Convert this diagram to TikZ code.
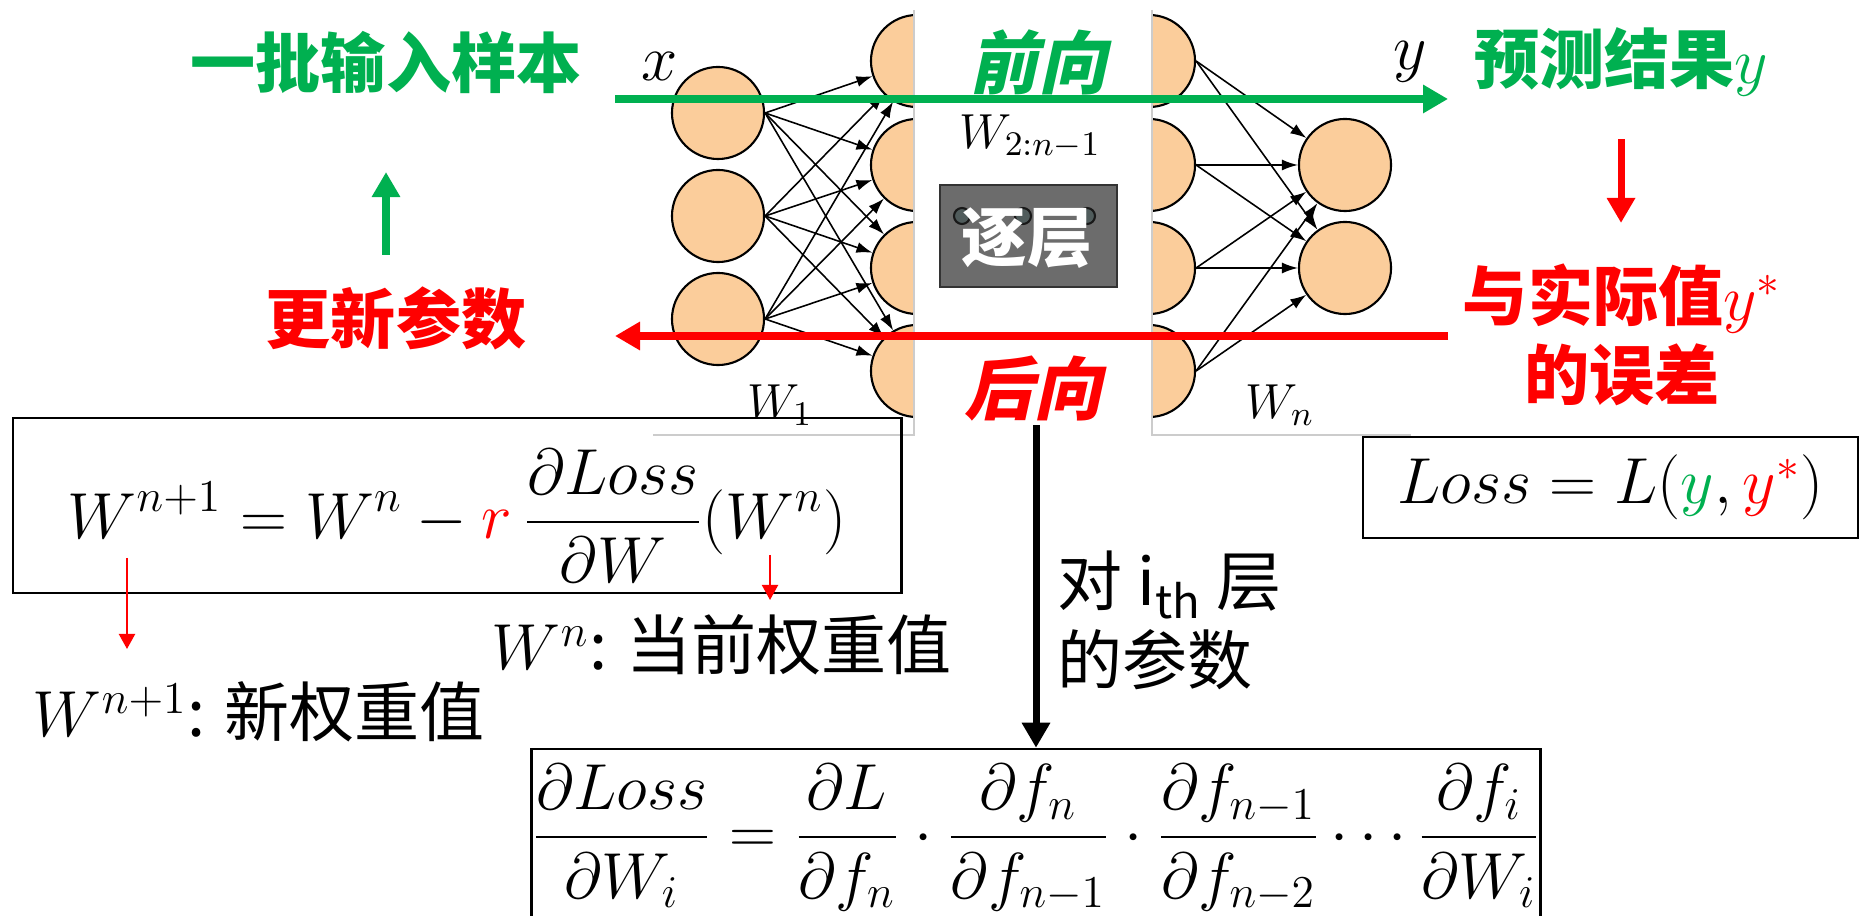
\documentclass[tikz,border=0pt]{standalone}
\usepackage{fix-cm}
\usepackage{amsmath}
\usepackage[no-math]{fontspec}
\usepackage{tikz}
\usetikzlibrary{arrows.meta}

\newfontfamily\cjkfont{Noto Sans CJK SC}
\newfontfamily\cjkslant[FakeSlant=0.22]{Noto Sans CJK SC}
\newcommand{\txtsize}{\fontsize{18.5}{22.5}\selectfont}

\definecolor{lvgreen}{RGB}{0,176,80}
\definecolor{lvred}{RGB}{255,0,0}
\definecolor{neuronfill}{RGB}{251,205,155}
\definecolor{layerfill}{RGB}{108,108,108}
\definecolor{layerdot}{RGB}{80,92,92}

\begin{document}
\begin{tikzpicture}[
    x=0.01cm, y=-0.01cm,
    % Neuronas y aristas de la red
    neuron/.style={circle, draw=black, line width=0.6pt, fill=neuronfill, minimum size=0.92cm, inner sep=0pt},
    edge/.style={-{Latex[length=1.6mm, width=1.1mm]}, line width=0.45pt},
    % Flechas gruesas de flujo
    flowArrow/.style={-{Triangle[length=2.5mm, width=2.7mm]}, line width=2pt},
    thinArrow/.style={-{Triangle[length=1.5mm, width=1.6mm]}, line width=0.6pt, color=lvred},
    frameLine/.style={draw=black!20, line width=0.4pt},
    formulaBox/.style={draw=black, line width=0.7pt, inner sep=0pt, font=\txtsize},
    bigLabel/.style={font=\cjkfont\bfseries\txtsize, inner sep=0pt},
    dirLabel/.style={font=\cjkslant\bfseries\fontsize{19.5}{22}\selectfont, inner sep=0pt},
    txt/.style={font=\cjkfont\txtsize, inner sep=0pt},
    wLabel/.style={font=\fontsize{14}{16}\selectfont, inner sep=0pt}
]

    \path[use as bounding box, fill=white] (0,0) rectangle (1861,916);

    % --- RED IZQUIERDA ---
    \foreach \i/\yy in {1/113, 2/216, 3/319}
        \node[neuron] (a\i) at (718,\yy) {};
    \begin{scope}
        \clip (653,10) rectangle (914,435);
        \foreach \j/\yy in {1/61, 2/165, 3/268, 4/371}
            \node[neuron] (b\j) at (917,\yy) {};
        \foreach \i in {1,2,3}
            \foreach \j in {1,...,4}
                \draw[edge] (a\i.east) -- (b\j);
    \end{scope}
    \draw[frameLine] (653,435) -- (914,435) -- (914,10);

    % --- RED DERECHA ---
    \begin{scope}
        \clip (1152,10) rectangle (1411,435);
        \foreach \j/\yy in {1/61, 2/165, 3/268, 4/371}
            \node[neuron] (c\j) at (1149,\yy) {};
    \end{scope}
    \foreach \k/\yy in {1/165, 2/268}
        \node[neuron] (d\k) at (1345,\yy) {};
    \foreach \j in {1,...,4}
        \foreach \k in {1,2}
            \draw[edge] (c\j.east) -- (d\k);
    \draw[frameLine] (1152,10) -- (1152,435) -- (1411,435);

    % --- CAPA OCULTA ---
    \node[draw=black!80, fill=layerfill, line width=0.8pt, minimum width=1.77cm, minimum height=1.02cm, inner sep=0pt] (layerBox) at (1028.5,236) {};
    \foreach \n/\xx in {1/962, 2/1023, 3/1087}
        \node[circle, draw=black!90, fill=layerdot, line width=0.6pt, minimum size=0.16cm, inner sep=0pt] (dot\n) at (\xx,216) {};
    \node[bigLabel, text=white] (layerTxt) at (1027,238) {逐层};

    % --- FLECHAS DE FLUJO ---
    \coordinate (fwdStart) at (615,99);
    \coordinate (fwdEnd)   at (1448,99);
    \coordinate (bwdStart) at (1448,336);
    \coordinate (bwdEnd)   at (615,336);
    \draw[flowArrow, lvgreen] (fwdStart) -- (fwdEnd);
    \draw[flowArrow, lvred] (bwdStart) -- (bwdEnd);

    % --- ETIQUETAS ---
    \node[wLabel] (xin)  at (660,67)  {\fontsize{18.5}{22}\selectfont$x$};
    \node[wLabel] (yout) at (1410,62) {\fontsize{18.5}{22}\selectfont$y$};
    \node[wLabel] (w1)   at (780,405)  {$W_1$};
    \node[wLabel] (wmid) at (1030,137) {$W_{2:n-1}$};
    \node[wLabel] (wn)   at (1280,405) {$W_n$};

    \node[dirLabel, text=lvgreen] (fwd) at (1038,62)  {前向};
    \node[dirLabel, text=lvred]   (bwd) at (1033,389) {后向};

    \node[bigLabel, text=lvgreen] (batch)  at (386,62)  {一批输入样本};
    \node[bigLabel, text=lvred]   (update) at (396,318) {更新参数};
    \node[bigLabel, text=lvgreen] (pred)   at (1621,62) {预测结果$y$};
    \node[bigLabel, text=lvred, align=center] (err) at (1622,335) {与实际值$y^{*}$\\的误差};

    \draw[flowArrow, lvgreen, shorten <=0.63cm, shorten >=1.10cm] (update.center -| batch.center) -- (batch.center);
    \draw[flowArrow, lvred, shorten <=0.77cm, shorten >=1.12cm] (pred.center) -- (pred.center |- err.center);

    % --- FORMULAS ---
    \node[formulaBox, minimum width=8.88cm, minimum height=1.75cm] (ruleBox) at (457,505.5) {};
    \node[font=\txtsize, inner sep=0pt] (ruleEq) at (457,516)
        {$\displaystyle W^{n+1} = W^{n} - {\color{lvred}r}\,\frac{\partial Loss}{\partial W}(W^{n})$};

    \node[formulaBox, minimum width=4.95cm, minimum height=1.01cm] (lossBox) at (1610.5,487.5)
        {$Loss = L({\color{lvgreen}y}, {\color{lvred}y^{*}})$};

    \node[formulaBox, minimum width=10.08cm, minimum height=1.78cm] (chainBox) at (1036,838)
        {$\displaystyle \frac{\partial Loss}{\partial W_i} = \frac{\partial L}{\partial f_n}\cdot\frac{\partial f_n}{\partial f_{n-1}}\cdot\frac{\partial f_{n-1}}{\partial f_{n-2}}\cdots\frac{\partial f_i}{\partial W_i}$};

    \node[txt] (newW) at (259,712) {$W^{n+1}$: 新权重值};
    \node[txt] (curW) at (722,645) {$W^{n}$: 当前权重值};
    \node[txt, align=left, anchor=west] (layerNote) at (1057,620) {对 i\textsubscript{th} 层\\的参数};

    \coordinate (newTop) at (127,558);
    \coordinate (newTip) at (127,649);
    \coordinate (curTop) at (770,555);
    \coordinate (curTip) at (770,600);
    \draw[thinArrow] (newTop) -- (newTip);
    \draw[thinArrow] (curTop) -- (curTip);

    \draw[flowArrow, black, shorten <=0.36cm] (bwd.center -| chainBox.north) -- (chainBox.north);

\end{tikzpicture}
\end{document}
